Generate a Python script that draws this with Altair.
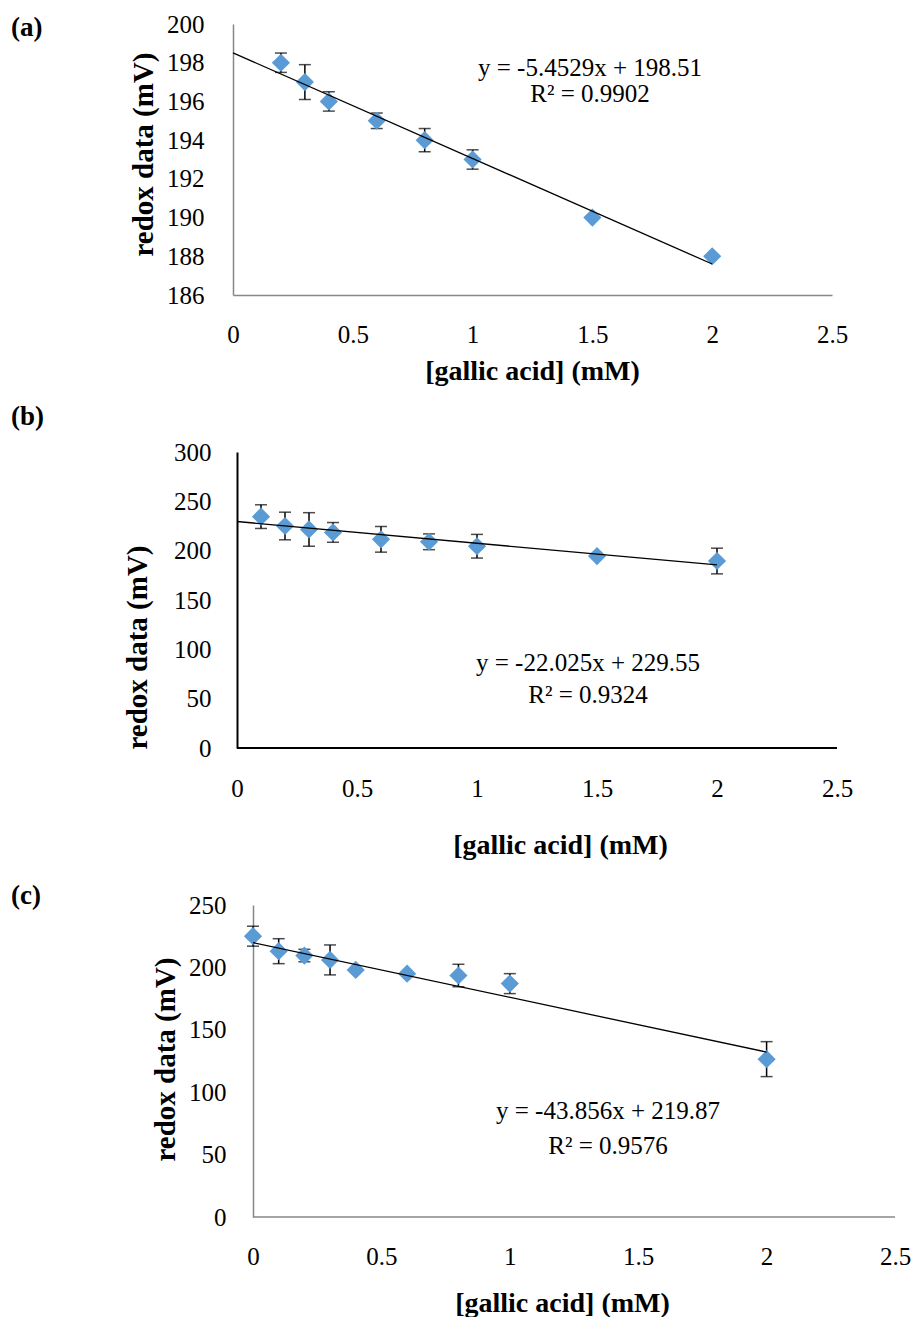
import altair as alt
import pandas as pd

FONT = "Liberation Serif"
BLUE = "#5B9BD5"
GRAY = "#878787"

# ---------------- data ----------------
x_ticks = [0, 0.5, 1, 1.5, 2, 2.5]

a_x = [0.2, 0.3, 0.4, 0.6, 0.8, 1.0, 1.5, 2.0]
a_y = [198.0, 197.0, 196.0, 195.0, 194.0, 193.0, 190.0, 188.0]
a_err = [0.5, 0.9, 0.5, 0.4, 0.6, 0.5, 0.0, 0.0]
a_trend_x = [0.0, 2.0]
a_trend_y = [198.51, 187.60]
a_yticks = [186, 188, 190, 192, 194, 196, 198, 200]
a_eq = "y = -5.4529x + 198.51\nR² = 0.9902"

b_x = [0.1, 0.2, 0.3, 0.4, 0.6, 0.8, 1.0, 1.5, 2.0]
b_y = [234.5, 225.0, 221.5, 218.5, 211.5, 209.0, 204.5, 194.5, 189.5]
b_err = [12, 14, 17, 10, 13, 8, 12, 0, 13]
b_trend_x = [0.0, 2.0]
b_trend_y = [229.55, 185.50]
b_yticks = [0, 50, 100, 150, 200, 250, 300]
b_eq = "y = -22.025x + 229.55\nR² = 0.9324"

c_x = [0.0, 0.1, 0.2, 0.3, 0.4, 0.6, 0.8, 1.0, 2.0]
c_y = [225.0, 213.0, 209.5, 206.0, 198.0, 195.0, 193.5, 187.0, 126.5]
c_err = [8, 10, 5, 12, 0, 0, 9, 8, 14]
c_trend_x = [0.0, 2.0]
c_trend_y = [219.87, 132.16]
c_yticks = [0, 50, 100, 150, 200, 250]
c_eq = "y = -43.856x + 219.87\nR² = 0.9576"

x_title = "[gallic acid] (mM)"
y_title = "redox data (mV)"


def panel(xs, ys, errs, tx, ty, yticks, eq, letter, cfg):
    df = pd.DataFrame({"x": xs, "y": ys, "err": errs})
    df["lo"] = df["y"] - df["err"]
    df["hi"] = df["y"] + df["err"]
    trend = pd.DataFrame({"x": tx, "y": ty})
    ymin, ymax = yticks[0], yticks[-1]

    xs_ = alt.Scale(domain=[cfg["xlo"], 2.5], nice=False, zero=False)
    ys_ = alt.Scale(domain=[ymin, ymax], nice=False, zero=False)

    x_axis = alt.Axis(
        values=x_ticks, format="~g", title=x_title, grid=False, ticks=False, tickSize=0,
        domain=cfg["xdomain"], domainColor=cfg["color"], domainWidth=cfg["dw"],
        labelFont=FONT, labelFontSize=25, labelColor="black", labelPadding=cfg["xlp"],
        labelBaseline="middle", labelOverlap=False, labelFlush=False, labelBound=False,
        titleFont=FONT, titleFontSize=28, titleFontWeight="bold", titleColor="black",
        titleX=cfg["xtx"], titleY=cfg["xty"], titleBaseline="middle", titleAlign="center",
    )
    y_axis = alt.Axis(
        values=yticks, title=y_title, grid=False, ticks=False, tickSize=0,
        domainColor=cfg["color"], domainWidth=cfg["dw"], offset=cfg["yoff"],
        labelFont=FONT, labelFontSize=25, labelColor="black", labelPadding=cfg["ylp"],
        labelOverlap=False, labelFlush=False, labelBound=False,
        titleFont=FONT, titleFontSize=29, titleFontWeight="bold", titleColor="black",
        titleX=cfg["ytx"], titleY=cfg["yty"], titleBaseline="middle", titleAngle=-90,
        titleAlign="center",
    )

    def X(f):
        return alt.X(f, scale=xs_, axis=x_axis)

    def Y(f):
        return alt.Y(f, scale=ys_, axis=y_axis)

    base = alt.Chart(df)
    bars = base.mark_rule(color="black", strokeWidth=1.5).encode(
        x=X("x:Q"), y=Y("lo:Q"), y2="hi:Q",
    ).transform_filter("datum.err > 0")
    cap_hi = base.mark_tick(orient="horizontal", size=12, thickness=1.5, color="black").encode(
        x=X("x:Q"), y=Y("hi:Q"),
    ).transform_filter("datum.err > 0")
    cap_lo = base.mark_tick(orient="horizontal", size=12, thickness=1.5, color="black").encode(
        x=X("x:Q"), y=Y("lo:Q"),
    ).transform_filter("datum.err > 0")
    pts = base.mark_point(shape="diamond", filled=True, size=330, color=BLUE, opacity=1).encode(
        x=X("x:Q"), y=Y("y:Q"),
    )
    line = alt.Chart(trend).mark_line(color="black", strokeWidth=1.3).encode(
        x=X("x:Q"), y=Y("y:Q"),
    )
    layers = [bars, cap_hi, cap_lo, pts, line]
    if not cfg["xdomain"]:
        xline = pd.DataFrame({"x0": [0.0], "x1": [2.5], "y0": [ymin]})
        layers.insert(0, alt.Chart(xline).mark_rule(color=cfg["color"], strokeWidth=cfg["dw"]).encode(
            x=X("x0:Q"), x2="x1:Q", y=Y("y0:Q"),
        ))
    eq_text = alt.Chart(pd.DataFrame({"t": [eq]})).mark_text(
        font=FONT, fontSize=25, color="black", align="center", baseline="alphabetic",
        lineBreak="\n", lineHeight=cfg["lh"],
    ).encode(x=alt.value(cfg["eqx"]), y=alt.value(cfg["eqy"]), text="t:N")
    let_text = alt.Chart(pd.DataFrame({"t": [letter]})).mark_text(
        font=FONT, fontSize=27, fontWeight="bold", color="black", align="left", baseline="middle",
    ).encode(x=alt.value(-222), y=alt.value(cfg["ly"]), text="t:N")
    layers += [eq_text, let_text]
    return alt.layer(*layers).properties(width=cfg["w"], height=cfg["h"])


pa = panel(a_x, a_y, a_err, a_trend_x, a_trend_y, a_yticks, a_eq, "(a)", dict(
    xlo=0.0, w=599, h=271, xdomain=True, color=GRAY, dw=1.5, yoff=0,
    xlp=39, xtx=299, xty=76, ylp=29, ytx=-90, yty=130,
    eqx=357, eqy=52, lh=26, ly=4))
pb = panel(b_x, b_y, b_err, b_trend_x, b_trend_y, b_yticks, b_eq, "(b)", dict(
    xlo=-4 / 240, w=604, h=296, xdomain=False, color="black", dw=2, yoff=-4,
    xlp=40, xtx=327, xty=97, ylp=26, ytx=-100, yty=195,
    eqx=355, eqy=219, lh=32, ly=-35))
pc = panel(c_x, c_y, c_err, c_trend_x, c_trend_y, c_yticks, c_eq, "(c)", dict(
    xlo=-20 / 256.8, w=662, h=312, xdomain=False, color=GRAY, dw=1.5, yoff=-20,
    xlp=39, xtx=329, xty=86, ylp=27, ytx=-88, yty=154,
    eqx=375, eqy=214, lh=35, ly=-9))

chart = alt.vconcat(pa, pb, pc, spacing=157, bounds="flush").properties(
    padding={"left": 3, "top": 4, "right": 0, "bottom": 0},
    background="white",
).configure_view(strokeWidth=0, stroke="transparent")

chart.save("out.html", embed_options={"renderer": "svg", "actions": False})
